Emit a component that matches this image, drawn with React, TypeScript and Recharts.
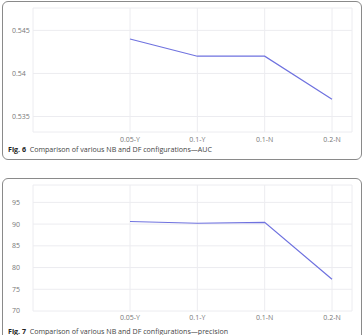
import { CartesianGrid, Line, LineChart, XAxis, YAxis } from "recharts";

// configuration labels shared by both panels
const configs = ["0.05-Y", "0.1-Y", "0.1-N", "0.2-N"];
const aucValues = [0.544, 0.542, 0.542, 0.537];
const precisionValues = [90.6, 90.2, 90.4, 77.3];
const aucTicks = [0.535, 0.54, 0.545];
const precisionTicks = [70, 75, 80, 85, 90, 95];

const aucData = configs.map((c, i) => ({ config: c, value: aucValues[i] }));
const precisionData = configs.map((c, i) => ({ config: c, value: precisionValues[i] }));

const FONT = "'Open Sans', 'Noto Sans', sans-serif";
const LINE = "#6f72df";
const GRID = "#ececf0";
const TICK = "#777";

function YTick(props: any) {
  const { y, payload } = props;
  return (
    <text x={12} y={y} dy="0.35em" fontSize={7} fill={TICK} fontFamily={FONT}>
      {payload.value}
    </text>
  );
}

function makeXTick(offset: number) {
  return (props: any) => {
    const { x, y, payload } = props;
    return (
      <text x={x} y={y + offset} textAnchor="middle" fontSize={7} fill={TICK} fontFamily={FONT}>
        {payload.value}
      </text>
    );
  };
}

function Panel({
  data,
  ticks,
  domain,
  height,
  top,
  xAxisHeight,
  labelOffset,
}: {
  data: Array<Record<string, string | number>>;
  ticks: number[];
  domain: [number, number];
  height: number;
  top: number;
  xAxisHeight: number;
  labelOffset: number;
}) {
  return (
    <LineChart
      width={364}
      height={height}
      data={data}
      margin={{ top, right: 12, bottom: 0, left: 0 }}
    >
      <CartesianGrid stroke={GRID} strokeWidth={1} />
      <XAxis
        dataKey="config"
        height={xAxisHeight}
        padding={{ left: 97, right: 20 }}
        tickLine={false}
        axisLine={false}
        tick={makeXTick(labelOffset)}
        interval={0}
      />
      <YAxis
        width={33}
        domain={domain}
        ticks={ticks}
        type="number"
        interval={0}
        allowDataOverflow
        tickLine={false}
        axisLine={false}
        tick={YTick}
      />
      <Line
        dataKey="value"
        stroke={LINE}
        strokeWidth={1.2}
        dot={false}
        activeDot={false}
        isAnimationActive={false}
      />
    </LineChart>
  );
}

const boxStyle: React.CSSProperties = {
  position: "absolute",
  left: 2,
  width: 360,
  border: "1px solid #8a8a8a",
  borderRadius: 6,
  boxSizing: "border-box",
};

const captionStyle: React.CSSProperties = {
  position: "absolute",
  left: 8,
  fontFamily: FONT,
  fontSize: 7.1,
  color: "#444",
  whiteSpace: "nowrap",
  lineHeight: 1,
};

export default function App() {
  return (
    <div
      style={{
        position: "absolute",
        left: 0,
        top: 0,
        width: 364,
        height: 335,
        overflow: "hidden",
        background: "#fff",
      }}
    >
      <div style={{ ...boxStyle, top: 1, height: 159 }} />
      <div style={{ ...boxStyle, top: 178, height: 170 }} />
      <div style={{ position: "absolute", left: 0, top: 0 }}>
        <Panel
          data={aucData}
          ticks={aucTicks}
          domain={[0.5332, 0.5476]}
          height={145}
          top={8}
          xAxisHeight={13}
          labelOffset={1.5}
        />
      </div>
      <div style={{ position: "absolute", left: 0, top: 170 }}>
        <Panel
          data={precisionData}
          ticks={precisionTicks}
          domain={[70, 99]}
          height={155}
          top={15}
          xAxisHeight={14}
          labelOffset={0.5}
        />
      </div>
      <div style={{ ...captionStyle, top: 146 }}>
        <b style={{ color: "#222" }}>Fig. 6</b>&nbsp; Comparison of various NB and DF configurations—AUC
      </div>
      <div style={{ ...captionStyle, top: 328 }}>
        <b style={{ color: "#222" }}>Fig. 7</b>&nbsp; Comparison of various NB and DF configurations—precision
      </div>
    </div>
  );
}
